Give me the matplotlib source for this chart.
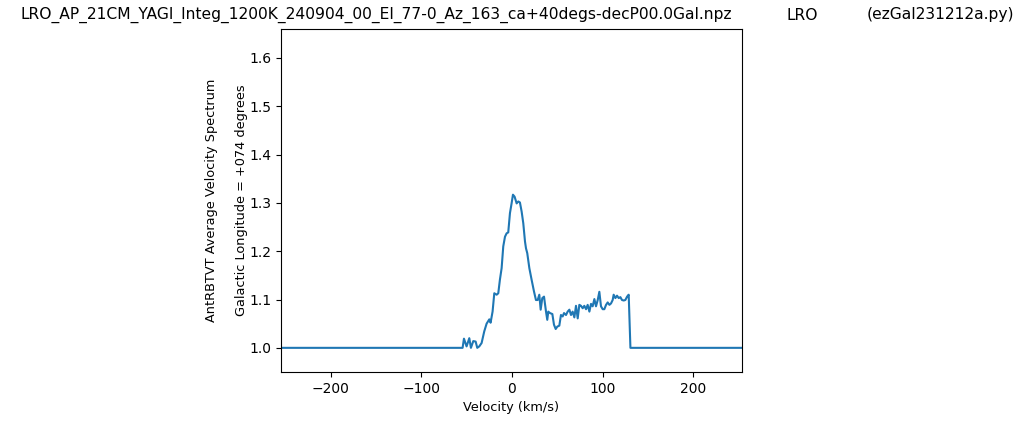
import matplotlib
matplotlib.use("Agg")
import matplotlib.pyplot as plt

# Spectrum values (km/s, relative power)
velocity = [-255, -54.5, -53.0, -50.1, -47.1, -45.3, -42.7, -40.1, -38.3, -36.1,
            -33.5, -30.6, -28.0, -25.0, -23.6, -21.4, -19.5, -16.9, -15.1, -13.3,
            -11.4, -9.6, -7.7, -5.9, -4.1, -2.2, -0.4, 1.1, 2.9, 5.2,
            7.0, 8.8, 10.7, 12.5, 14.4, 15.5, 16.9, 19.2, 21.7, 24.3,
            26.5, 28.4, 30.2, 31.7, 33.5, 35.4, 37.6, 39.0, 40.1, 42.0,
            44.6, 46.4, 48.3, 50.1, 52.3, 54.1, 56.0, 57.5, 59.7, 61.5,
            63.4, 65.2, 67.0, 68.9, 70.7, 72.6, 74.4, 76.2, 78.1, 79.9,
            81.8, 83.6, 85.5, 87.3, 89.1, 91.0, 92.8, 94.7, 96.5, 98.3,
            100.2, 102.0, 103.9, 105.7, 107.6, 109.4, 111.2, 112.3, 114.2, 116.0,
            117.9, 119.7, 121.5, 123.4, 125.2, 127.1, 128.9, 130.8, 255]
values = [1.0, 1.0, 1.019, 1.003, 1.020, 1.0, 1.014, 1.013, 1.0, 1.003,
          1.010, 1.034, 1.050, 1.059, 1.052, 1.075, 1.113, 1.110, 1.113, 1.141,
          1.165, 1.210, 1.230, 1.237, 1.239, 1.279, 1.299, 1.317, 1.313, 1.299,
          1.303, 1.301, 1.282, 1.258, 1.220, 1.206, 1.196, 1.165, 1.141, 1.117,
          1.099, 1.099, 1.110, 1.079, 1.103, 1.106, 1.075, 1.058, 1.075, 1.072,
          1.070, 1.048, 1.039, 1.044, 1.046, 1.068, 1.065, 1.072, 1.068, 1.075,
          1.079, 1.068, 1.075, 1.063, 1.087, 1.061, 1.089, 1.087, 1.082, 1.087,
          1.080, 1.089, 1.075, 1.091, 1.086, 1.101, 1.086, 1.099, 1.116, 1.086,
          1.080, 1.080, 1.089, 1.094, 1.089, 1.092, 1.099, 1.110, 1.103, 1.108,
          1.103, 1.105, 1.099, 1.098, 1.099, 1.106, 1.110, 1.0, 1.0]

title_file = "LRO_AP_21CM_YAGI_Integ_1200K_240904_00_El_77-0_Az_163_ca+40degs-decP00.0Gal.npz"
title_site = "LRO"
title_prog = "(ezGal231212a.py)"

fig = plt.figure(figsize=(10.24, 4.22), dpi=100)
ax = fig.add_axes([281 / 1024, 50 / 422, 461 / 1024, 343 / 422])

ax.plot(velocity, values)
ax.set_xlim(-255, 254)
ax.set_ylim(0.95, 1.66)
ax.set_xlabel("Velocity (km/s)", fontsize=9.3)
ax.set_ylabel("AntRBTVT Average Velocity Spectrum\n\nGalactic Longitude = +074 degrees",
              fontsize=9.3, labelpad=1)

fig.text(20 / 1024, 1 - 15 / 422, title_file, fontsize=11.2, va="center", ha="left")
fig.text(787 / 1024, 1 - 15 / 422, title_site, fontsize=11.2, va="center", ha="left")
fig.text(867 / 1024, 1 - 15 / 422, title_prog, fontsize=11.2, va="center", ha="left")

fig.savefig("out.png", dpi=100)
